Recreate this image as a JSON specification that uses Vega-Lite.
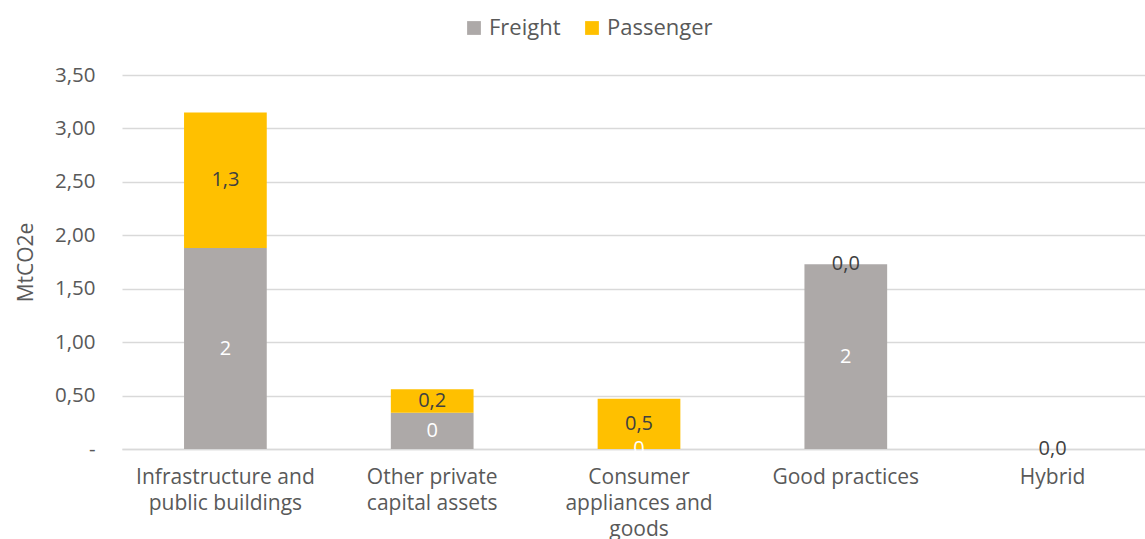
{
  "$schema": "https://vega.github.io/schema/vega-lite/v6.json",
  "width": 1034,
  "height": 374,
  "autosize": "none",
  "padding": {"left": 122, "top": 75, "right": 0, "bottom": 90},
  "background": "white",
  "config": {
    "locale": {"number": {"decimal": ",", "thousands": ".", "grouping": [3], "currency": ["", " €"]}},
    "font": "Open Sans",
    "view": {"stroke": null},
    "axis": {"labelFont": "Open Sans", "titleFont": "Open Sans", "labelColor": "#595959", "titleColor": "#595959"},
    "legend": {"labelFont": "Open Sans", "labelColor": "#595959"}
  },
  "data": {
    "values": [
      {"category": "Infrastructure and public buildings", "series": "Freight", "value": 1.88},
      {"category": "Infrastructure and public buildings", "series": "Passenger", "value": 1.27},
      {"category": "Other private capital assets", "series": "Freight", "value": 0.34},
      {"category": "Other private capital assets", "series": "Passenger", "value": 0.22},
      {"category": "Consumer appliances and goods", "series": "Freight", "value": 0.0},
      {"category": "Consumer appliances and goods", "series": "Passenger", "value": 0.47},
      {"category": "Good practices", "series": "Freight", "value": 1.73},
      {"category": "Good practices", "series": "Passenger", "value": 0.0},
      {"category": "Hybrid", "series": "Passenger", "value": 0.0}
    ]
  },
  "encoding": {
    "x": {
      "field": "category",
      "type": "nominal",
      "sort": null,
      "scale": {"paddingInner": 0.6, "paddingOuter": 0.3},
      "axis": {
        "title": null,
        "labelAngle": 0,
        "labelFontSize": 21,
        "labelLineHeight": 26,
        "labelPadding": 17,
        "labelLimit": 400,
        "ticks": false,
        "labelOverlap": false,
        "domainColor": "#d9d9d9",
        "domainWidth": 1.5,
        "labelExpr": "datum.label == 'Infrastructure and public buildings' ? ['Infrastructure and', 'public buildings'] : datum.label == 'Other private capital assets' ? ['Other private', 'capital assets'] : datum.label == 'Consumer appliances and goods' ? ['Consumer', 'appliances and', 'goods'] : datum.label"
      }
    }
  },
  "layer": [
    {
      "mark": {"type": "bar"},
      "encoding": {
        "y": {
          "field": "value",
          "type": "quantitative",
          "stack": "zero",
          "scale": {"domain": [0, 3.5]},
          "axis": {
            "title": "MtCO2e",
            "titleFontSize": 21,
            "titleFontWeight": "normal",
            "titlePadding": 18,
            "labelFontSize": 20.5,
            "labelPadding": 27,
            "labelOverlap": false,
            "values": [0, 0.5, 1, 1.5, 2, 2.5, 3, 3.5],
            "labelExpr": "datum.value == 0 ? '-' : replace(format(datum.value, '.2f'), '.', ',')",
            "ticks": false,
            "domain": false,
            "gridColor": "#d9d9d9",
            "gridWidth": 1.5
          }
        },
        "color": {
          "field": "series",
          "type": "nominal",
          "scale": {"domain": ["Freight", "Passenger"], "range": ["#ADA9A8", "#FFC000"]},
          "legend": {
            "title": null,
            "orient": "none",
            "legendX": 341,
            "legendY": -58,
            "direction": "horizontal",
            "symbolType": "square",
            "symbolSize": 190,
            "symbolStrokeWidth": 0,
            "labelFontSize": 22,
            "labelOffset": 4,
            "columnPadding": 20
          }
        },
        "order": {"field": "series", "sort": "ascending"}
      }
    },
    {
      "transform": [{"filter": "datum.series == 'Freight'"}],
      "mark": {"type": "text", "fontSize": 20, "color": "white", "baseline": "middle"},
      "encoding": {
        "y": {"field": "value", "type": "quantitative", "stack": "zero", "bandPosition": 0.5},
        "text": {"field": "value", "type": "quantitative", "format": ".0f"}
      }
    },
    {
      "mark": {"type": "text", "fontSize": 20, "color": "#404040", "baseline": "middle"},
      "encoding": {
        "y": {"field": "value", "type": "quantitative", "stack": "zero", "bandPosition": 0.5},
        "detail": {"field": "series"},
        "order": {"field": "series", "sort": "ascending"},
        "text": {
          "condition": {"test": "datum.series == 'Freight'", "value": ""},
          "field": "value", "type": "quantitative", "format": ".1f"
        }
      }
    }
  ]
}
